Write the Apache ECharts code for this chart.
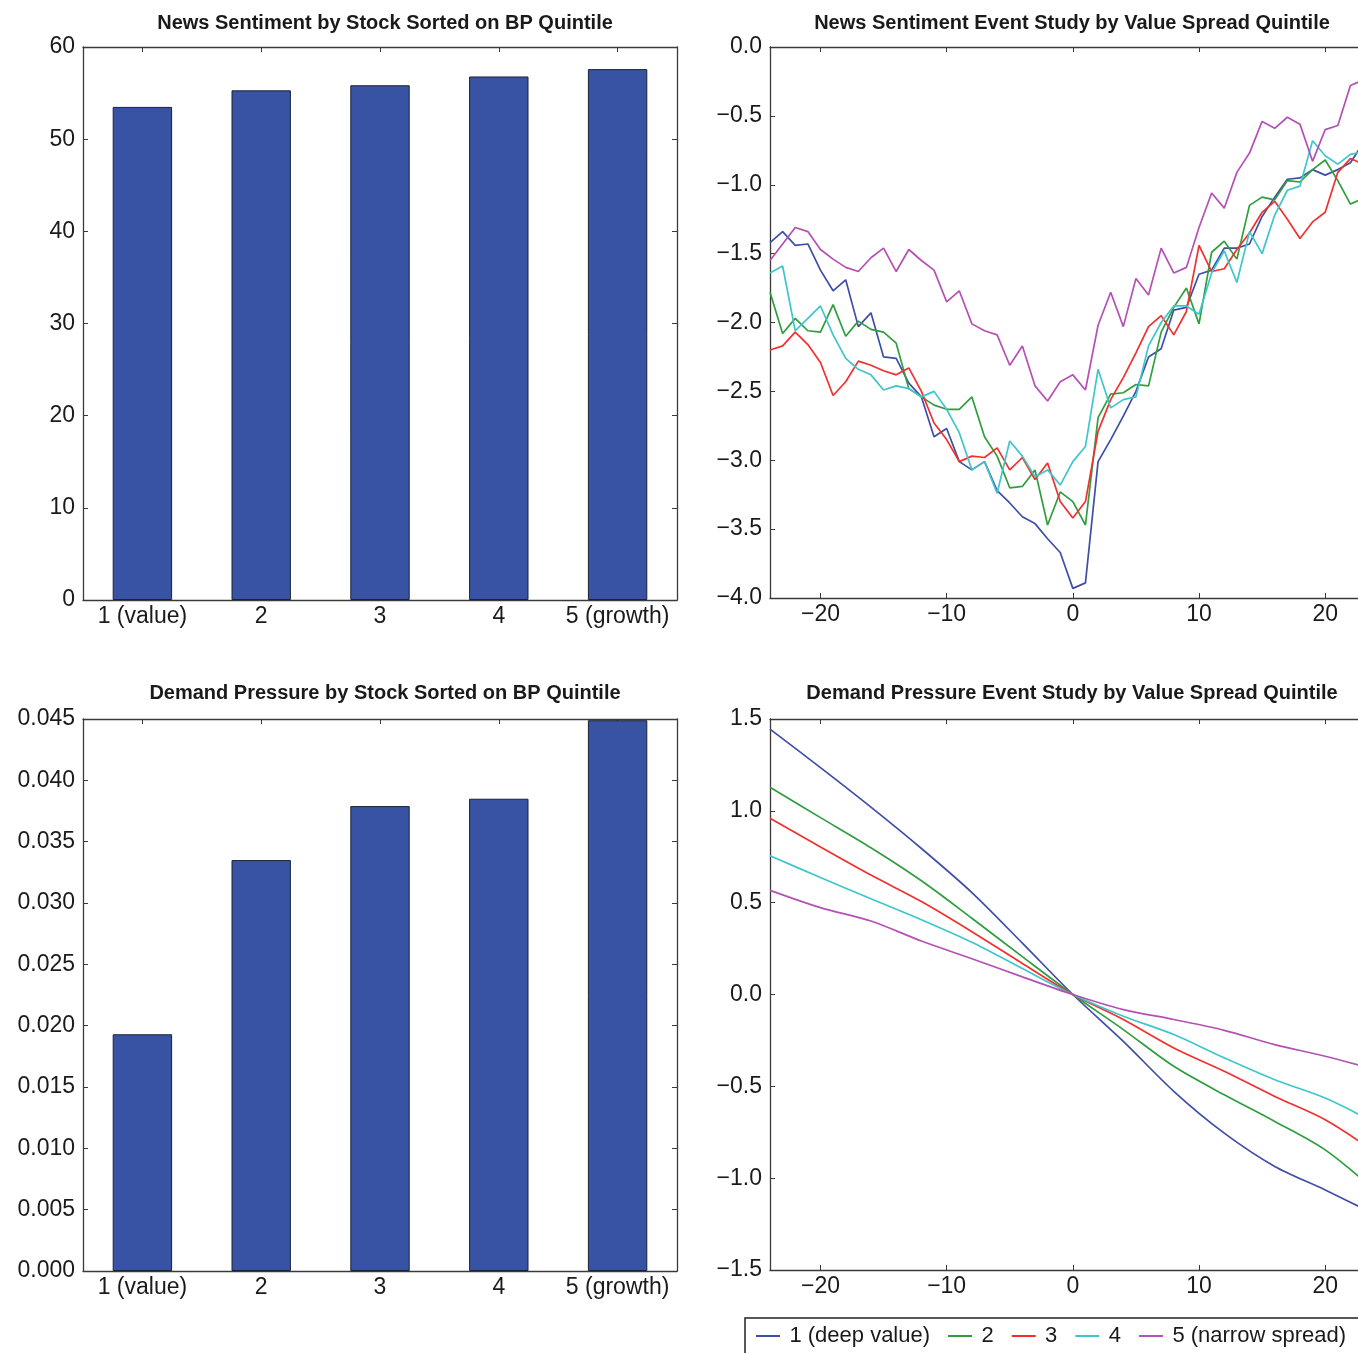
<!DOCTYPE html>
<html>
<head>
<meta charset="utf-8">
<script src="https://cdn.jsdelivr.net/npm/echarts@6/dist/echarts.min.js"></script>
<style>
  html, body { margin: 0; padding: 0; background: #fff; }
  #main { width: 1358px; height: 1353px; }
</style>
</head>
<body>
<div id="main"></div>
<script>
// bar panels
var quintiles = ['1 (value)', '2', '3', '4', '5 (growth)'];
var newsSentiment = [53.5, 55.3, 55.85, 56.8, 57.6];
var demandPressure = [0.0193, 0.0335, 0.0379, 0.0385, 0.0449];

// event study, top right: day -24 .. 23
var eventDays = [-24,-23,-22,-21,-20,-19,-18,-17,-16,-15,-14,-13,-12,-11,-10,-9,-8,-7,-6,-5,-4,-3,-2,-1,
                 0,1,2,3,4,5,6,7,8,9,10,11,12,13,14,15,16,17,18,19,20,21,22,23];
var newsQ1 = [-1.42,-1.34,-1.44,-1.43,-1.62,-1.77,-1.69,-2.03,-1.93,-2.25,-2.26,-2.44,-2.54,-2.83,-2.77,-3.01,-3.07,-3.01,-3.22,-3.31,-3.41,-3.46,-3.57,-3.67,
              -3.93,-3.89,-3.01,-2.85,-2.68,-2.50,-2.25,-2.19,-1.91,-1.89,-1.65,-1.62,-1.46,-1.46,-1.43,-1.23,-1.09,-0.96,-0.95,-0.89,-0.93,-0.89,-0.84,-0.70];
var newsQ2 = [-1.78,-2.08,-1.97,-2.06,-2.07,-1.87,-2.10,-1.99,-2.05,-2.07,-2.15,-2.48,-2.54,-2.60,-2.63,-2.63,-2.54,-2.83,-2.97,-3.20,-3.19,-3.07,-3.47,-3.23,
              -3.30,-3.47,-2.69,-2.52,-2.51,-2.45,-2.46,-2.07,-1.89,-1.75,-2.01,-1.49,-1.41,-1.54,-1.15,-1.09,-1.11,-0.97,-0.98,-0.89,-0.82,-0.97,-1.14,-1.10];
var newsQ3 = [-2.20,-2.17,-2.07,-2.16,-2.29,-2.53,-2.43,-2.28,-2.31,-2.35,-2.38,-2.33,-2.50,-2.73,-2.85,-3.01,-2.97,-2.98,-2.91,-3.07,-2.98,-3.14,-3.02,-3.30,
              -3.42,-3.30,-2.79,-2.56,-2.40,-2.22,-2.03,-1.95,-2.09,-1.92,-1.44,-1.63,-1.61,-1.47,-1.35,-1.20,-1.12,-1.25,-1.39,-1.27,-1.20,-0.91,-0.81,-0.85];
var newsQ4 = [-1.64,-1.59,-2.06,-1.97,-1.88,-2.09,-2.26,-2.34,-2.38,-2.49,-2.46,-2.48,-2.54,-2.50,-2.63,-2.80,-3.07,-3.01,-3.24,-2.86,-2.97,-3.12,-3.07,-3.18,
              -3.01,-2.90,-2.34,-2.62,-2.56,-2.54,-2.17,-2.00,-1.88,-1.88,-1.94,-1.64,-1.48,-1.71,-1.34,-1.50,-1.22,-1.04,-1.01,-0.68,-0.79,-0.85,-0.78,-0.76];
var newsQ5 = [-1.55,-1.43,-1.31,-1.34,-1.47,-1.54,-1.60,-1.63,-1.53,-1.46,-1.63,-1.47,-1.55,-1.62,-1.85,-1.77,-2.01,-2.06,-2.09,-2.31,-2.17,-2.46,-2.57,-2.43,
              -2.38,-2.49,-2.02,-1.78,-2.03,-1.68,-1.80,-1.46,-1.64,-1.60,-1.31,-1.06,-1.17,-0.91,-0.77,-0.54,-0.59,-0.51,-0.56,-0.83,-0.60,-0.57,-0.28,-0.24];

// event study, bottom right: every 4 days
var pressureDays = [-24,-20,-16,-12,-8,-4,0,4,8,12,16,20,24];
var pressQ1 = [1.445,1.235,1.02,0.795,0.555,0.28,0,-0.255,-0.527,-0.755,-0.936,-1.064,-1.20];
var pressQ2 = [1.128,0.963,0.799,0.619,0.415,0.206,0,-0.191,-0.391,-0.546,-0.691,-0.846,-1.07];
var pressQ3 = [0.96,0.803,0.65,0.506,0.342,0.169,0,-0.136,-0.291,-0.418,-0.555,-0.682,-0.86];
var pressQ4 = [0.755,0.637,0.521,0.407,0.284,0.141,0,-0.118,-0.218,-0.345,-0.464,-0.564,-0.70];
var pressQ5 = [0.567,0.473,0.40,0.291,0.195,0.096,0,-0.082,-0.136,-0.195,-0.273,-0.336,-0.41];

var seriesNames = ['1 (deep value)', '2', '3', '4', '5 (narrow spread)'];
var lineColors = ['#3f4fa8', '#2e9e3e', '#f2302e', '#3fc5cc', '#b451b4'];

var FONT = '"Liberation Sans", Arial, sans-serif';
var axisCol = '#3a3a3a';

function minus(s) { return String(s).replace('-', '\u2212'); }

function pairs(xs, ys) {
  return xs.map(function (x, i) { return [x, ys[i]]; });
}

// the right-hand panels run off the edge of the picture, so their x range stops at ~22.6
var grids = [
  {left: 83, top: 47, width: 594, height: 553},
  {left: 770, top: 47, right: 0, height: 551},
  {left: 83, top: 719, width: 594, height: 552},
  {left: 770, top: 719, right: 0, height: 551}
];

var baseLine = {show: true, onZero: false, lineStyle: {color: axisCol, width: 1.3}};
var baseTick = {show: true, inside: true, length: 5, lineStyle: {color: axisCol, width: 1}};
var baseLabel = {color: '#1a1a1a', fontSize: 23, fontFamily: FONT};

var xAxes = [], yAxes = [];
[0, 1, 2, 3].forEach(function (g) {
  var isBar = (g === 0 || g === 2);
  var common;
  if (isBar) {
    common = {type: 'category', data: quintiles, gridIndex: g, boundaryGap: true,
              axisTick: Object.assign({alignWithLabel: true}, baseTick)};
  } else {
    common = {type: 'value', gridIndex: g, min: -24, max: 22.6, splitNumber: 5,
              axisTick: baseTick};
  }
  xAxes.push(Object.assign({}, common, {
    position: 'bottom', axisLine: baseLine, splitLine: {show: false},
    axisLabel: Object.assign({}, baseLabel, {
      margin: 5, interval: 0, showMinLabel: isBar, showMaxLabel: isBar,
      formatter: isBar ? '{value}' : function (v) { return v % 10 === 0 ? minus(v) : ''; }
    })
  }));
  xAxes.push(Object.assign({}, common, {
    position: 'top', axisLine: baseLine, splitLine: {show: false}, axisLabel: {show: false}
  }));
});

var yDefs = [
  {min: 0, max: 60, interval: 10, fmt: function (v) { return String(v); }},
  {min: -4, max: 0, interval: 0.5, fmt: function (v) { return minus(v.toFixed(1)); }},
  {min: 0, max: 0.045, interval: 0.005, fmt: function (v) { return v.toFixed(3); }},
  {min: -1.5, max: 1.5, interval: 0.5, fmt: function (v) { return minus(v.toFixed(1)); }}
];
yDefs.forEach(function (d, g) {
  var cut = (g === 1 || g === 3);
  yAxes.push({type: 'value', gridIndex: g, position: 'left', min: d.min, max: d.max, interval: d.interval,
    axisLine: baseLine, axisTick: baseTick, splitLine: {show: false},
    axisLabel: Object.assign({}, baseLabel, {margin: 8, formatter: d.fmt})});
  yAxes.push({type: 'value', gridIndex: g, position: 'right', min: d.min, max: d.max, interval: d.interval,
    show: !cut, axisLine: baseLine, axisTick: baseTick, splitLine: {show: false}, axisLabel: {show: false}});
});

var titleStyle = {fontFamily: FONT, fontWeight: 'bold', fontSize: 20, color: '#1a1a1a'};
var titles = [
  {text: 'News Sentiment by Stock Sorted on BP Quintile', left: 380, top: 8},
  {text: 'News Sentiment Event Study by Value Spread Quintile', left: 1067, top: 8},
  {text: 'Demand Pressure by Stock Sorted on BP Quintile', left: 380, top: 678},
  {text: 'Demand Pressure Event Study by Value Spread Quintile', left: 1067, top: 678}
].map(function (t) {
  return {text: t.text, left: t.left, top: t.top, textAlign: 'center', textStyle: titleStyle};
});

var barStyle = {color: '#3953a4', borderColor: '#1b2233', borderWidth: 1};
var series = [
  {type: 'bar', xAxisIndex: 0, yAxisIndex: 0, data: newsSentiment, barWidth: '50%', itemStyle: barStyle, silent: true},
  {type: 'bar', xAxisIndex: 4, yAxisIndex: 4, data: demandPressure, barWidth: '50%', itemStyle: barStyle, silent: true}
];
var newsLines = [newsQ1, newsQ2, newsQ3, newsQ4, newsQ5];
var pressLines = [pressQ1, pressQ2, pressQ3, pressQ4, pressQ5];
newsLines.forEach(function (ys, i) {
  series.push({type: 'line', name: seriesNames[i], xAxisIndex: 2, yAxisIndex: 2,
    data: pairs(eventDays, ys), showSymbol: false, color: lineColors[i], clip: true,
    lineStyle: {width: 1.7, color: lineColors[i]}});
});
pressLines.forEach(function (ys, i) {
  series.push({type: 'line', name: seriesNames[i], xAxisIndex: 6, yAxisIndex: 6,
    data: pairs(pressureDays, ys), showSymbol: false, smooth: 0.3, color: lineColors[i], clip: true,
    lineStyle: {width: 1.7, color: lineColors[i]}});
});

var chart = echarts.init(document.getElementById('main'));
chart.setOption({
  backgroundColor: '#fff',
  animation: false,
  title: titles,
  grid: grids,
  xAxis: xAxes,
  yAxis: yAxes,
  legend: {
    data: seriesNames, left: 745, top: 1318, width: 760, orient: 'horizontal',
    icon: 'rect', itemWidth: 24, itemHeight: 2, itemGap: 18,
    borderColor: '#222', borderWidth: 1.5, borderRadius: 0, padding: [7, 40, 12, 11],
    backgroundColor: '#fff',
    formatter: function (name) { return '\u2009' + name; },
    textStyle: {fontSize: 22, fontFamily: FONT, color: '#1a1a1a'}
  },
  series: series
});
</script>
</body>
</html>
